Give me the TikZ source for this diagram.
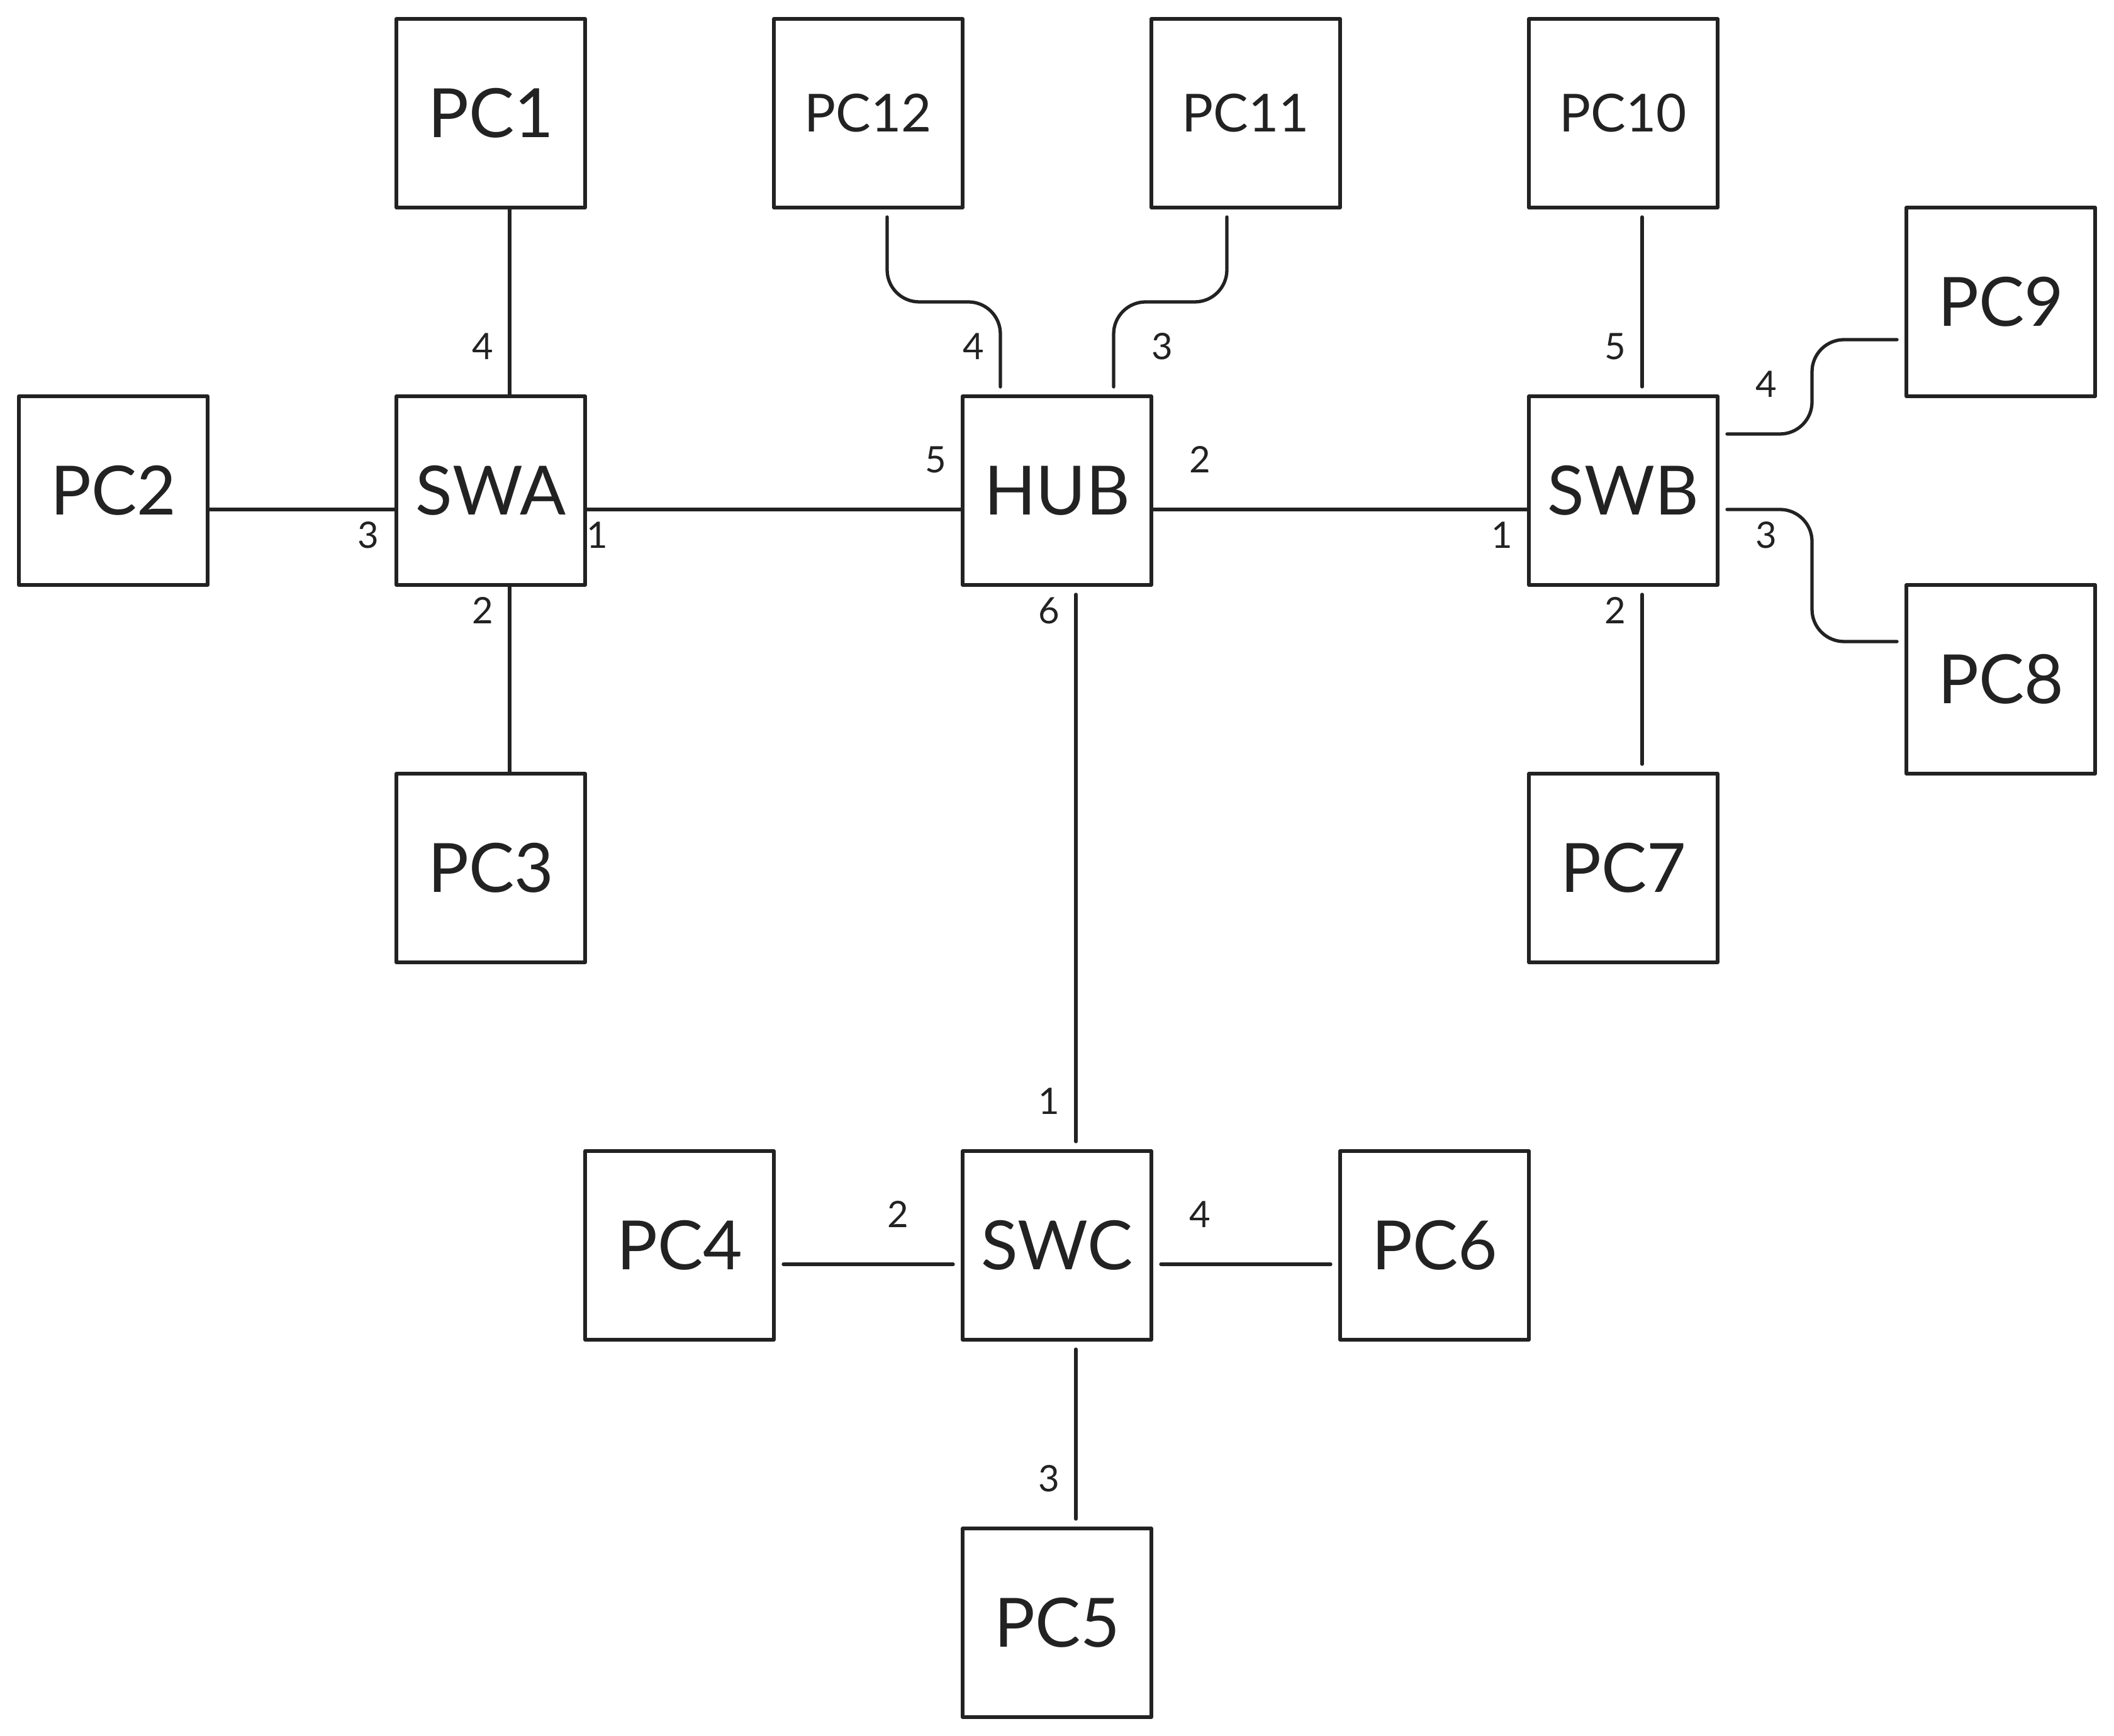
\documentclass[tikz,border=0pt]{standalone}
\usepackage{fontspec}
\setmainfont{Lato}
\usetikzlibrary{calc}
\definecolor{ink}{HTML}{222222}
\begin{document}
\begin{tikzpicture}[
  box/.style={draw=ink, line width=1pt, minimum width=2cm, minimum height=2cm, inner sep=0pt, outer sep=0pt, text=ink, font=\fontsize{20.5}{24}\selectfont, line join=round},
  boxs/.style={box, font=\fontsize{15.8}{18}\selectfont},
  link/.style={draw=ink, line width=1pt, line cap=round, rounded corners=0.34cm},
  gap/.style={shorten <=0.1cm, shorten >=0.1cm},
  port/.style={text=ink, font=\fontsize{11}{13}\selectfont, inner sep=0pt}
]
\useasboundingbox (0,0) rectangle (22.4,-18.4);
% boxes
\node[box]  (PC1)  at (5.2,-1.2)  {PC1};
\node[boxs] (PC12) at (9.2,-1.2)  {PC12};
\node[boxs] (PC11) at (13.2,-1.2) {PC11};
\node[boxs] (PC10) at (17.2,-1.2) {PC10};
\node[box]  (PC9)  at (21.2,-3.2) {PC9};
\node[box]  (PC2)  at (1.2,-5.2)  {PC2};
\node[box]  (SWA)  at (5.2,-5.2)  {SWA};
\node[box]  (HUB)  at (11.2,-5.2) {HUB};
\node[box]  (SWB)  at (17.2,-5.2) {SWB};
\node[box]  (PC8)  at (21.2,-7.2) {PC8};
\node[box]  (PC3)  at (5.2,-9.2)  {PC3};
\node[box]  (PC7)  at (17.2,-9.2) {PC7};
\node[box]  (PC4)  at (7.2,-13.2) {PC4};
\node[box]  (SWC)  at (11.2,-13.2) {SWC};
\node[box]  (PC6)  at (15.2,-13.2) {PC6};
\node[box]  (PC5)  at (11.2,-17.2) {PC5};
% connectors
\draw[link] ([xshift=0.2cm]PC1.south) -- ([xshift=0.2cm]SWA.north);
\draw[link] ([yshift=-0.2cm]PC2.east) -- ([yshift=-0.2cm]SWA.west);
\draw[link] ([yshift=-0.2cm]SWA.east) -- ([yshift=-0.2cm]HUB.west);
\draw[link] ([xshift=0.2cm]SWA.south) -- ([xshift=0.2cm]PC3.north);
\draw[link] ([yshift=-0.2cm]HUB.east) -- ([yshift=-0.2cm]SWB.west);
\draw[link,gap] ([xshift=0.2cm]PC12.south) -- ++(0,-1) -| ([xshift=-0.6cm]HUB.north);
\draw[link,gap] ([xshift=-0.2cm]PC11.south) -- ++(0,-1) -| ([xshift=0.6cm]HUB.north);
\draw[link,gap] ([xshift=0.2cm]HUB.south) -- ([xshift=0.2cm]SWC.north);
\draw[link,gap] ([xshift=0.2cm]PC10.south) -- ([xshift=0.2cm]SWB.north);
\draw[link,gap] ([xshift=0.2cm]SWB.south) -- ([xshift=0.2cm]PC7.north);
\draw[link,gap] ([yshift=0.6cm]SWB.east) -- ++(1,0) |- ([yshift=-0.4cm]PC9.west);
\draw[link,gap] ([yshift=-0.2cm]SWB.east) -- ++(1,0) |- ([yshift=0.4cm]PC8.west);
\draw[link,gap] ([yshift=-0.2cm]PC4.east) -- ([yshift=-0.2cm]SWC.west);
\draw[link,gap] ([yshift=-0.2cm]SWC.east) -- ([yshift=-0.2cm]PC6.west);
\draw[link,gap] ([xshift=0.2cm]SWC.south) -- ([xshift=0.2cm]PC5.north);
% port labels
\node[port] (la4) at (5.114,-3.671) {4};
\node[port] (la3) at (3.9,-5.671) {3};
\node[port] (la1) at (6.329,-5.671) {1};
\node[port] (la2) at (5.114,-6.471) {2};
\node[port] (lh4) at (10.314,-3.671) {4};
\node[port] (lh3) at (12.314,-3.671) {3};
\node[port] (lh5) at (9.914,-4.871) {5};
\node[port] (lh2) at (12.714,-4.871) {2};
\node[port] (lh6) at (11.114,-6.471) {6};
\node[port] (lb5) at (17.114,-3.671) {5};
\node[port] (lb4) at (18.714,-4.071) {4};
\node[port] (lb1) at (15.914,-5.671) {1};
\node[port] (lb3) at (18.714,-5.671) {3};
\node[port] (lb2) at (17.114,-6.471) {2};
\node[port] (lc1) at (11.114,-11.671) {1};
\node[port] (lc2) at (9.514,-12.871) {2};
\node[port] (lc4) at (12.714,-12.871) {4};
\node[port] (lc3) at (11.114,-15.671) {3};
\end{tikzpicture}
\end{document}
